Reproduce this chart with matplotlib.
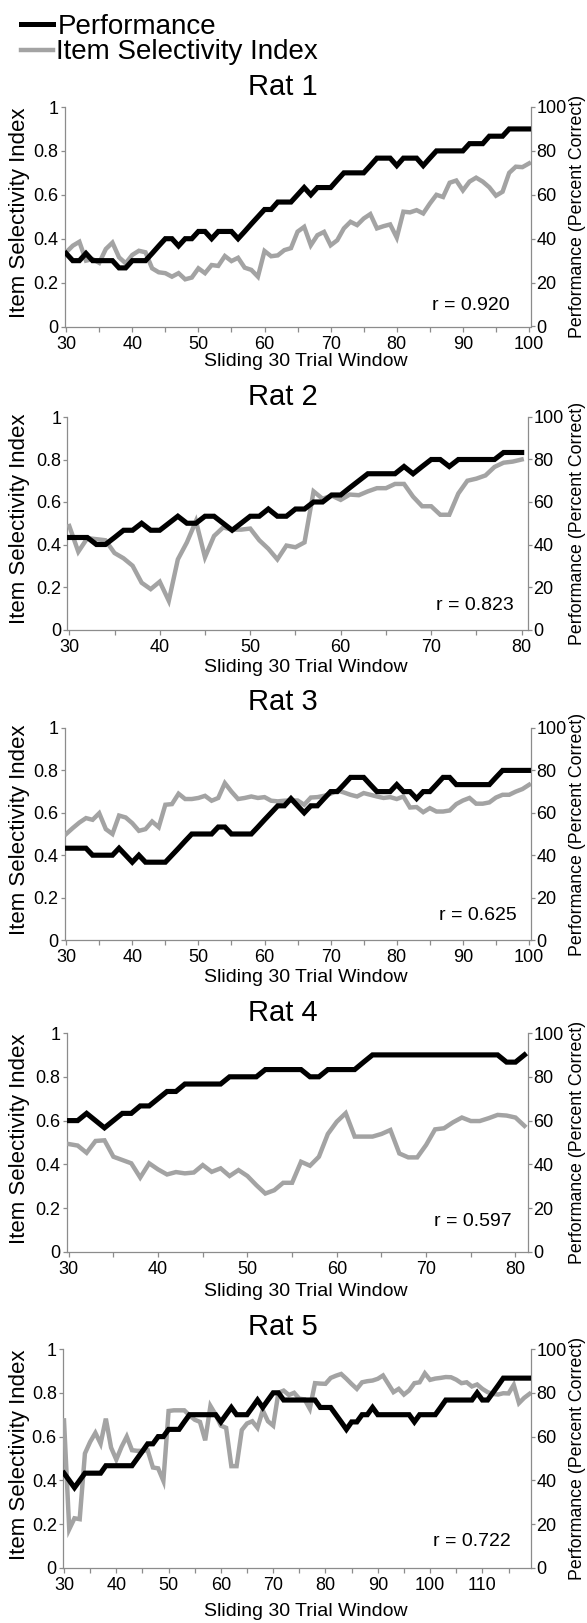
import numpy as np
import matplotlib
matplotlib.use("Agg")
import matplotlib.pyplot as plt
from matplotlib.lines import Line2D

plt.rcParams['font.family'] = ['Liberation Sans', 'DejaVu Sans']

# ---------------- data ----------------
rat1_x = list(range(30, 101))
rat1_perf = [33.3, 30, 30, 33.3, 30, 30, 30, 30, 26.7, 26.7,
             30, 30, 30, 33.3, 36.7, 40, 40, 36.7, 40, 40,
             43.3, 43.3, 40, 43.3, 43.3, 43.3, 40, 43.3, 46.7, 50,
             53.3, 53.3, 56.7, 56.7, 56.7, 60, 63.3, 60, 63.3, 63.3,
             63.3, 66.7, 70, 70, 70, 70, 73.3, 76.7, 76.7, 76.7,
             73.3, 76.7, 76.7, 76.7, 73.3, 76.7, 80, 80, 80, 80,
             80, 83.3, 83.3, 83.3, 86.7, 86.7, 86.7, 90, 90, 90,
             90]
rat1_isi = [0.338, 0.368, 0.386, 0.300, 0.307, 0.290, 0.353, 0.382, 0.315, 0.288,
            0.326, 0.345, 0.338, 0.265, 0.247, 0.243, 0.227, 0.243, 0.215, 0.223,
            0.265, 0.243, 0.280, 0.276, 0.321, 0.298, 0.313, 0.268, 0.258, 0.227,
            0.344, 0.320, 0.324, 0.348, 0.357, 0.432, 0.454, 0.370, 0.416, 0.431,
            0.370, 0.393, 0.447, 0.477, 0.462, 0.492, 0.512, 0.447, 0.457, 0.465,
            0.405, 0.523, 0.520, 0.530, 0.515, 0.560, 0.600, 0.590, 0.655, 0.665,
            0.620, 0.660, 0.678, 0.660, 0.634, 0.596, 0.614, 0.700, 0.728, 0.726,
            0.743]

rat2_x = list(range(30, 81))
rat2_perf = [43.3, 43.3, 43.3, 40, 40, 43.3, 46.7, 46.7, 50, 46.7,
             46.7, 50, 53.3, 50, 50, 53.3, 53.3, 50, 46.7, 50,
             53.3, 53.3, 56.7, 53.3, 53.3, 56.7, 56.7, 60, 60, 63.3,
             63.3, 66.7, 70, 73.3, 73.3, 73.3, 73.3, 76.7, 73.3, 76.7,
             80, 80, 76.7, 80, 80, 80, 80, 80, 83.3, 83.3,
             83.3]
rat2_isi = [0.487, 0.366, 0.430, 0.425, 0.420, 0.360, 0.335, 0.300, 0.220, 0.190,
            0.225, 0.135, 0.330, 0.410, 0.510, 0.340, 0.440, 0.480, 0.470, 0.470,
            0.475, 0.420, 0.380, 0.330, 0.395, 0.387, 0.410, 0.650, 0.615, 0.630,
            0.610, 0.635, 0.632, 0.650, 0.665, 0.665, 0.685, 0.685, 0.625, 0.580,
            0.580, 0.540, 0.540, 0.640, 0.700, 0.710, 0.725, 0.765, 0.785, 0.790,
            0.800]

rat3_x = list(range(30, 101))
rat3_perf = [43.3, 43.3, 43.3, 43.3, 40, 40, 40, 40, 43.3, 40,
             36.7, 40, 36.7, 36.7, 36.7, 36.7, 40, 43.3, 46.7, 50,
             50, 50, 50, 53.3, 53.3, 50, 50, 50, 50, 53.3,
             56.7, 60, 63.3, 63.3, 66.7, 63.3, 60, 63.3, 63.3, 66.7,
             70, 70, 73.3, 76.7, 76.7, 76.7, 73.3, 70, 70, 70,
             73.3, 70, 70, 66.7, 70, 70, 73.3, 76.7, 76.7, 73.3,
             73.3, 73.3, 73.3, 73.3, 73.3, 76.7, 80, 80, 80, 80,
             80]
rat3_isi = [0.500, 0.528, 0.554, 0.575, 0.567, 0.598, 0.523, 0.500, 0.587, 0.578,
            0.551, 0.515, 0.523, 0.559, 0.532, 0.638, 0.641, 0.690, 0.665, 0.665,
            0.670, 0.680, 0.657, 0.670, 0.740, 0.700, 0.665, 0.670, 0.677, 0.670,
            0.674, 0.657, 0.654, 0.657, 0.658, 0.658, 0.638, 0.672, 0.674, 0.680,
            0.690, 0.705, 0.696, 0.685, 0.677, 0.693, 0.685, 0.677, 0.670, 0.674,
            0.665, 0.677, 0.625, 0.627, 0.603, 0.622, 0.606, 0.606, 0.611, 0.641,
            0.658, 0.670, 0.643, 0.643, 0.649, 0.672, 0.685, 0.685, 0.700, 0.712,
            0.732]

rat4_x = list(range(30, 82))
rat4_perf = [60, 60, 63.3, 60, 56.7, 60, 63.3, 63.3, 66.7, 66.7,
             70, 73.3, 73.3, 76.7, 76.7, 76.7, 76.7, 76.7, 80, 80,
             80, 80, 83.3, 83.3, 83.3, 83.3, 83.3, 80, 80, 83.3,
             83.3, 83.3, 83.3, 86.7, 90, 90, 90, 90, 90, 90,
             90, 90, 90, 90, 90, 90, 90, 90, 90, 86.7,
             86.7, 90]
rat4_isi = [0.493, 0.486, 0.453, 0.507, 0.510, 0.435, 0.420, 0.405, 0.340, 0.405,
            0.377, 0.354, 0.365, 0.359, 0.363, 0.397, 0.366, 0.382, 0.347, 0.374,
            0.347, 0.305, 0.267, 0.282, 0.316, 0.316, 0.412, 0.394, 0.435, 0.539,
            0.595, 0.634, 0.527, 0.527, 0.527, 0.539, 0.557, 0.450, 0.432, 0.432,
            0.489, 0.560, 0.565, 0.592, 0.614, 0.598, 0.598, 0.611, 0.626, 0.623,
            0.614, 0.576]

rat5_x = list(range(30, 120))
rat5_perf = [43.3, 40, 36.7, 40, 43.3, 43.3, 43.3, 43.3, 46.7, 46.7,
             46.7, 46.7, 46.7, 46.7, 50, 53.3, 56.7, 56.7, 60, 60,
             63.3, 63.3, 63.3, 66.7, 70, 70, 70, 70, 70, 70,
             66.7, 70, 73.3, 70, 70, 70, 73.3, 76.7, 73.3, 76.7,
             80, 80, 76.7, 76.7, 76.7, 76.7, 76.7, 76.7, 76.7, 73.3,
             73.3, 73.3, 70, 66.7, 63.3, 66.7, 66.7, 70, 70, 73.3,
             70, 70, 70, 70, 70, 70, 70, 66.7, 70, 70,
             70, 70, 73.3, 76.7, 76.7, 76.7, 76.7, 76.7, 76.7, 80,
             76.7, 76.7, 80, 83.3, 86.7, 86.7, 86.7, 86.7, 86.7, 86.7]
rat5_isi = [0.674, 0.177, 0.227, 0.223, 0.523, 0.576, 0.617, 0.568, 0.682, 0.550,
            0.495, 0.553, 0.600, 0.538, 0.535, 0.535, 0.538, 0.459, 0.455, 0.398,
            0.717, 0.720, 0.720, 0.720, 0.697, 0.677, 0.667, 0.583, 0.740, 0.700,
            0.650, 0.640, 0.465, 0.465, 0.630, 0.660, 0.670, 0.640, 0.720, 0.670,
            0.650, 0.800, 0.810, 0.790, 0.800, 0.773, 0.770, 0.727, 0.844, 0.842,
            0.841, 0.868, 0.878, 0.886, 0.864, 0.840, 0.818, 0.848, 0.853, 0.856,
            0.864, 0.879, 0.841, 0.803, 0.818, 0.792, 0.811, 0.844, 0.848, 0.889,
            0.859, 0.865, 0.868, 0.872, 0.871, 0.860, 0.844, 0.848, 0.829, 0.838,
            0.818, 0.803, 0.795, 0.792, 0.798, 0.797, 0.836, 0.753, 0.777, 0.795]

titles = ["Rat 1", "Rat 2", "Rat 3", "Rat 4", "Rat 5"]
r_labels = ["r = 0.920", "r = 0.823", "r = 0.625", "r = 0.597", "r = 0.722"]
xs = [rat1_x, rat2_x, rat3_x, rat4_x, rat5_x]
perfs = [rat1_perf, rat2_perf, rat3_perf, rat4_perf, rat5_perf]
isis = [rat1_isi, rat2_isi, rat3_isi, rat4_isi, rat5_isi]
left_ticks = [0, 0.2, 0.4, 0.6, 0.8, 1.0]
left_ticklabels = ["0", "0.2", "0.4", "0.6", "0.8", "1"]
right_ticks = [0, 20, 40, 60, 80, 100]

# ---------------- layout (pixels) ----------------
W, H = 587, 1623
# left, top, right, bottom of each plot area
boxes = [(64.5, 107, 531, 326.5),
         (67, 417, 528, 629.5),
         (64.5, 728, 531, 940),
         (66.5, 1033, 528, 1252),
         (62.7, 1349, 531, 1568)]
xlims = [(29.75, 100.3), (29.75, 80.7), (29.75, 100.3), (29.75, 81.4), (29.75, 119.3)]
title_y = [87, 397, 702, 1013, 1327]
xlabel_y = [362, 668, 978, 1292, 1611]
r_pos = [(471, 305), (475, 605), (478, 915), (473, 1222), (472, 1542)]

GRAY = "#A3A3A3"
AX_GRAY = "#8C8C8C"
BLACK = "#000000"

fig = plt.figure(figsize=(W / 100, H / 100), dpi=100)


def fx(px):
    return px / W


def fy(py):
    return 1 - py / H


for i in range(5):
    l, t, r, b = boxes[i]
    ax = fig.add_axes([fx(l), fy(b), (r - l) / W, (b - t) / H])
    ax2 = ax.twinx()
    x = xs[i]
    ax.plot(x, isis[i], color=GRAY, lw=3.2, solid_joinstyle='miter', zorder=3)
    ax2.plot(x, perfs[i], color=BLACK, lw=3.7, solid_joinstyle='miter', zorder=3)
    ax.set_xlim(*xlims[i])
    ax.set_ylim(0, 1)
    ax2.set_ylim(0, 100)
    xmax = x[-1]
    major = list(range(30, xmax + 1, 10))
    minor = [v for v in range(35, xmax + 1, 10)]
    ax.set_xticks(major)
    ax.set_xticklabels([str(v) for v in major])
    ax.set_xticks(minor, minor=True)
    ax.set_yticks(left_ticks)
    ax.set_yticklabels(left_ticklabels)
    ax2.set_yticks(right_ticks)
    ax2.set_yticklabels([str(v) for v in right_ticks])
    for a in (ax, ax2):
        a.spines['top'].set_visible(False)
        for s in a.spines.values():
            s.set_color(AX_GRAY)
            s.set_linewidth(0.9)
    ax.spines['right'].set_visible(False)
    ax2.spines['left'].set_visible(False)
    ax2.spines['bottom'].set_visible(False)
    ax.tick_params(axis='x', which='both', direction='out', length=3.5, width=0.9,
                   color=AX_GRAY, labelsize=13, pad=3.0)
    ax.tick_params(axis='y', direction='out', length=3.2, width=0.9,
                   color=AX_GRAY, labelsize=13, pad=1.0)
    ax2.tick_params(axis='y', direction='out', length=3.2, width=0.9,
                    color=AX_GRAY, labelsize=13, pad=0.6)
    ax.set_facecolor('none')
    ax2.set_facecolor('none')
    # titles / labels
    fig.text(fx(283), fy(title_y[i]), titles[i], ha='center', va='center', fontsize=21)
    fig.text(fx(306), fy(xlabel_y[i]), "Sliding 30 Trial Window", ha='center', va='center',
             fontsize=14)
    cy = (t + b) / 2
    fig.text(fx(20), fy(cy - 4), "Item Selectivity Index", rotation=90, ha='center',
             va='center', fontsize=16)
    fig.text(fx(577), fy(cy), "Performance (Percent Correct)", rotation=90, ha='center',
             va='center', fontsize=12.8)
    fig.text(fx(r_pos[i][0]), fy(r_pos[i][1]), r_labels[i], ha='center', va='center',
             fontsize=14)

# legend at top-left
fig.add_artist(Line2D([fx(21), fx(53)], [fy(24), fy(24)], color=BLACK, lw=3.6,
                      transform=fig.transFigure))
fig.add_artist(Line2D([fx(21), fx(53)], [fy(49.5), fy(49.5)], color=GRAY, lw=3.2,
                      transform=fig.transFigure))
fig.text(fx(58), fy(27), "Performance", ha='left', va='center', fontsize=20)
fig.text(fx(56), fy(52), "Item Selectivity Index", ha='left', va='center', fontsize=20)

fig.savefig("out.png", dpi=100)
